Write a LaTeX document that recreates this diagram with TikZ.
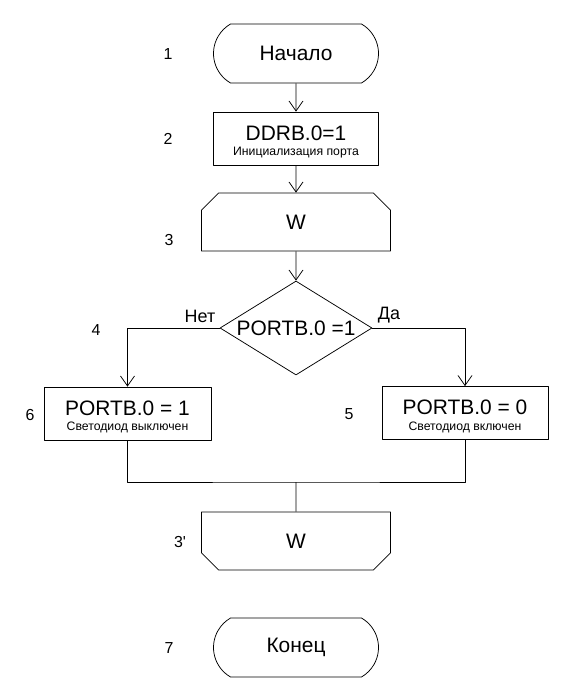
\documentclass[tikz,border=0pt]{standalone}
\usepackage{fontspec}
\setmainfont{Liberation Sans}[Ligatures=TeXOff]
\usetikzlibrary{shapes.misc,shapes.geometric,arrows.meta}
\newcommand{\nhotxt}[1]{{\fontsize{12.3}{14}\selectfont #1}}
\newcommand{\caotxt}{\rule{0pt}{21.5bp}}
\begin{document}
\begin{tikzpicture}[x=1bp,y=-1bp,line width=0.75bp,line join=round,
	>={Straight Barb[length=10bp,width=14bp]},
	font=\fontsize{21}{22}\selectfont,
	khoi/.style={draw,inner sep=0pt,minimum width=166bp,minimum height=53bp,align=center},
	batdau/.style={draw,rounded rectangle,rounded rectangle arc length=120,inner sep=0pt,minimum width=165bp,minimum height=59bp},
	vong/.style={draw,chamfered rectangle,chamfered rectangle xsep=12bp,chamfered rectangle ysep=28bp,inner sep=0pt,minimum width=189bp,minimum height=58bp},
	so/.style={font=\fontsize{16}{18}\selectfont},
	nhan/.style={font=\fontsize{18}{20}\selectfont}]
	\useasboundingbox (0,0) rectangle (570,700);
	\def\xo{296} % truc giua
	% cac khoi
	\node[batdau] (start) at (\xo,53.5) {Начало};
	\node[khoi,minimum width=165bp] (init) at (\xo,138.5) {\caotxt DDRB.0=1\\[-6bp]\nhotxt{Инициализация порта}};
	\node[vong,chamfered rectangle corners={north west,north east}] (loopA) at (\xo,222) {W};
	\node[draw,diamond,shape aspect=1.6,inner sep=0pt,minimum width=152bp,minimum height=94bp] (cond) at (\xo,328) {PORTB.0 =1};
	\node[khoi,minimum width=167bp] (off) at (127.5,413.5) {\caotxt PORTB.0 = 1\\[-6bp]\nhotxt{Светодиод выключен}};
	\node[khoi] (on) at (465,413) {\caotxt PORTB.0 = 0\\[-6bp]\nhotxt{Светодиод включен}};
	\node[vong,chamfered rectangle corners={south west,south east}] (loopB) at (\xo,541) {W};
	\node[batdau] (stop) at (\xo,647.5) {Конец};
	\coordinate (j) at (\xo,482);
	% duong noi
	\draw[->] (start) -- (init);
	\draw[->] (init) -- (loopA);
	\draw[->] (loopA) -- (cond);
	\draw[->] (cond.west) -| (off.north);
	\draw[->] (cond.east) -| (on.north);
	\draw (off.south) |- (j) -| (on.south);
	\draw (j) -- (loopB);
	% nhan
	\node[nhan] (tNo) at (200,316) {Нет};
	\node[nhan] (tYes) at (389,315) {Да};
	\node[so] (n1) at (168,54) {1};
	\node[so] (n2) at (168,139) {2};
	\node[so] (n3) at (169,240) {3};
	\node[so] (n4) at (96,330) {4};
	\node[so] (n6) at (30,415) {6};
	\node[so] (n5) at (349,414) {5};
	\node[so] (n3b) at (180,542) {3'};
	\node[so] (n7) at (169,648) {7};
\end{tikzpicture}
\end{document}
